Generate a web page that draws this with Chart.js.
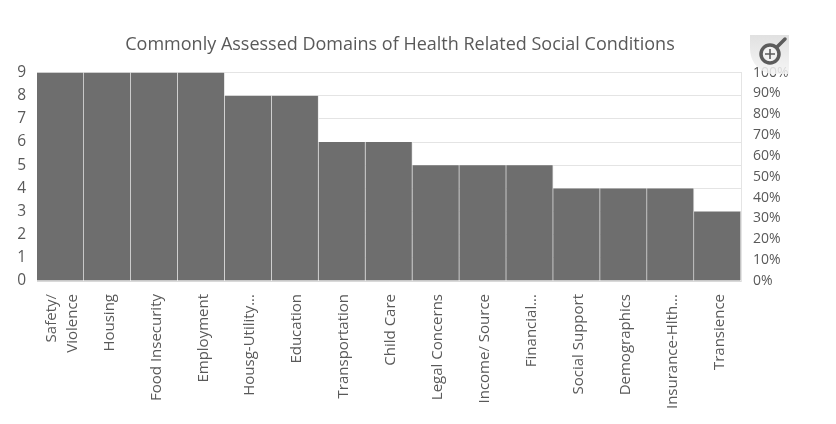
<!DOCTYPE html>
<html>
<head>
<meta charset="utf-8">
<title>Commonly Assessed Domains</title>
<script src="https://cdn.jsdelivr.net/npm/chart.js@4"></script>
<style>
    html, body { margin: 0; padding: 0; background: #fff; overflow: hidden; }
    #wrap { position: relative; width: 836px; height: 424px; }
    #zoomIcon { position: absolute; left: 749px; top: 34px; }
</style>
</head>
<body>
<div id="wrap">
    <canvas id="domainChart" width="836" height="424"></canvas>
    <!-- magnifier badge sitting on top of the chart -->
    <svg id="zoomIcon" width="41" height="40" viewBox="0 0 41 40">
        <defs>
            <linearGradient id="badge" x1="0" y1="0" x2="0" y2="1">
                <stop offset="0" stop-color="#dcdcdc"/>
                <stop offset="1" stop-color="#f4f4f4"/>
            </linearGradient>
        </defs>
        <path d="M1 1 H40 V40 H22 C10 38 1 28 1 14 Z" fill="url(#badge)" opacity="0.85"/>
        <circle cx="21" cy="20" r="9" fill="#f2f2f2" stroke="#5c5c5c" stroke-width="3.5"/>
        <path d="M16 20 H26 M21 15 V25" stroke="#5c5c5c" stroke-width="1.6"/>
        <path d="M28 13 L36 5" stroke="#5c5c5c" stroke-width="3.5" stroke-linecap="round"/>
    </svg>
</div>

<script>
// =========================
// DATA
// =========================
const titleText = "Commonly Assessed Domains of Health Related Social Conditions";
const categories = [
    ["Safety/", "Violence"], "Housing", "Food Insecurity", "Employment",
    "Housg-Utility...", "Education", "Transportation", "Child Care",
    "Legal Concerns", "Income/ Source", "Financial...", "Social Support",
    "Demographics", "Insurance-Hlth...", "Transience"
];
const counts = [9, 9, 9, 9, 8, 8, 6, 6, 5, 5, 5, 4, 4, 4, 3];
const percentTicks = [0, 10, 20, 30, 40, 50, 60, 70, 80, 90, 100];

const textColor = "#595959";
const gridColor = "#e4e4e4";
const fontFamily = "'Open Sans', sans-serif";

// rotated labels start at the tick, so pull the two-line one back to centre it on its bar
const centerMultiLine = {
    id: "centerMultiLine",
    afterLayout(chart) {
        const items = chart.scales.x.getLabelItems(chart.chartArea);
        items[0].textOffset -= 11;
    }
};

// =========================
// CHART
// =========================
new Chart(document.getElementById("domainChart"), {
    type: "bar",
    plugins: [centerMultiLine],
    data: {
        labels: categories,
        datasets: [{
            data: counts,
            backgroundColor: "#6e6e6e",
            borderColor: "#ececec",
            borderWidth: { left: 0, right: 1, top: 0, bottom: 0 },
            borderSkipped: false,
            barPercentage: 1,
            categoryPercentage: 1,
            yAxisID: "y"
        }]
    },
    options: {
        responsive: false,
        animation: false,
        layout: { padding: { top: 34, right: 36, bottom: 0, left: 0 } },
        plugins: {
            legend: { display: false },
            tooltip: { enabled: false },
            title: {
                display: true,
                text: titleText,
                color: textColor,
                font: { family: fontFamily, size: 18, weight: "normal" },
                padding: { top: 0, bottom: 17 }
            }
        },
        scales: {
            x: {
                grid: { display: false },
                border: { color: "#d9d9d9" },
                afterFit: axis => { axis.height = 143; },
                ticks: {
                    color: textColor,
                    font: { family: fontFamily, size: 15, lineHeight: 1.45 },
                    minRotation: 90,
                    maxRotation: 90,
                    autoSkip: false,
                    padding: 5,
                    labelOffset: 2
                }
            },
            y: {
                min: 0,
                max: 9,
                grid: { color: gridColor, drawTicks: false },
                border: { display: false },
                afterFit: axis => { axis.width = 37; },
                ticks: {
                    stepSize: 1,
                    color: textColor,
                    font: { family: fontFamily, size: 15.5 },
                    padding: 11
                }
            },
            y1: {
                position: "right",
                min: 0,
                max: 100,
                grid: { display: false },
                border: { color: gridColor },
                afterFit: axis => { axis.width = 59; },
                afterBuildTicks: axis => {
                    axis.ticks = percentTicks.map(v => ({ value: v }));
                },
                ticks: {
                    color: textColor,
                    font: { family: fontFamily, size: 14 },
                    padding: 4,
                    callback: v => v + "%"
                }
            }
        }
    }
});
</script>
</body>
</html>
